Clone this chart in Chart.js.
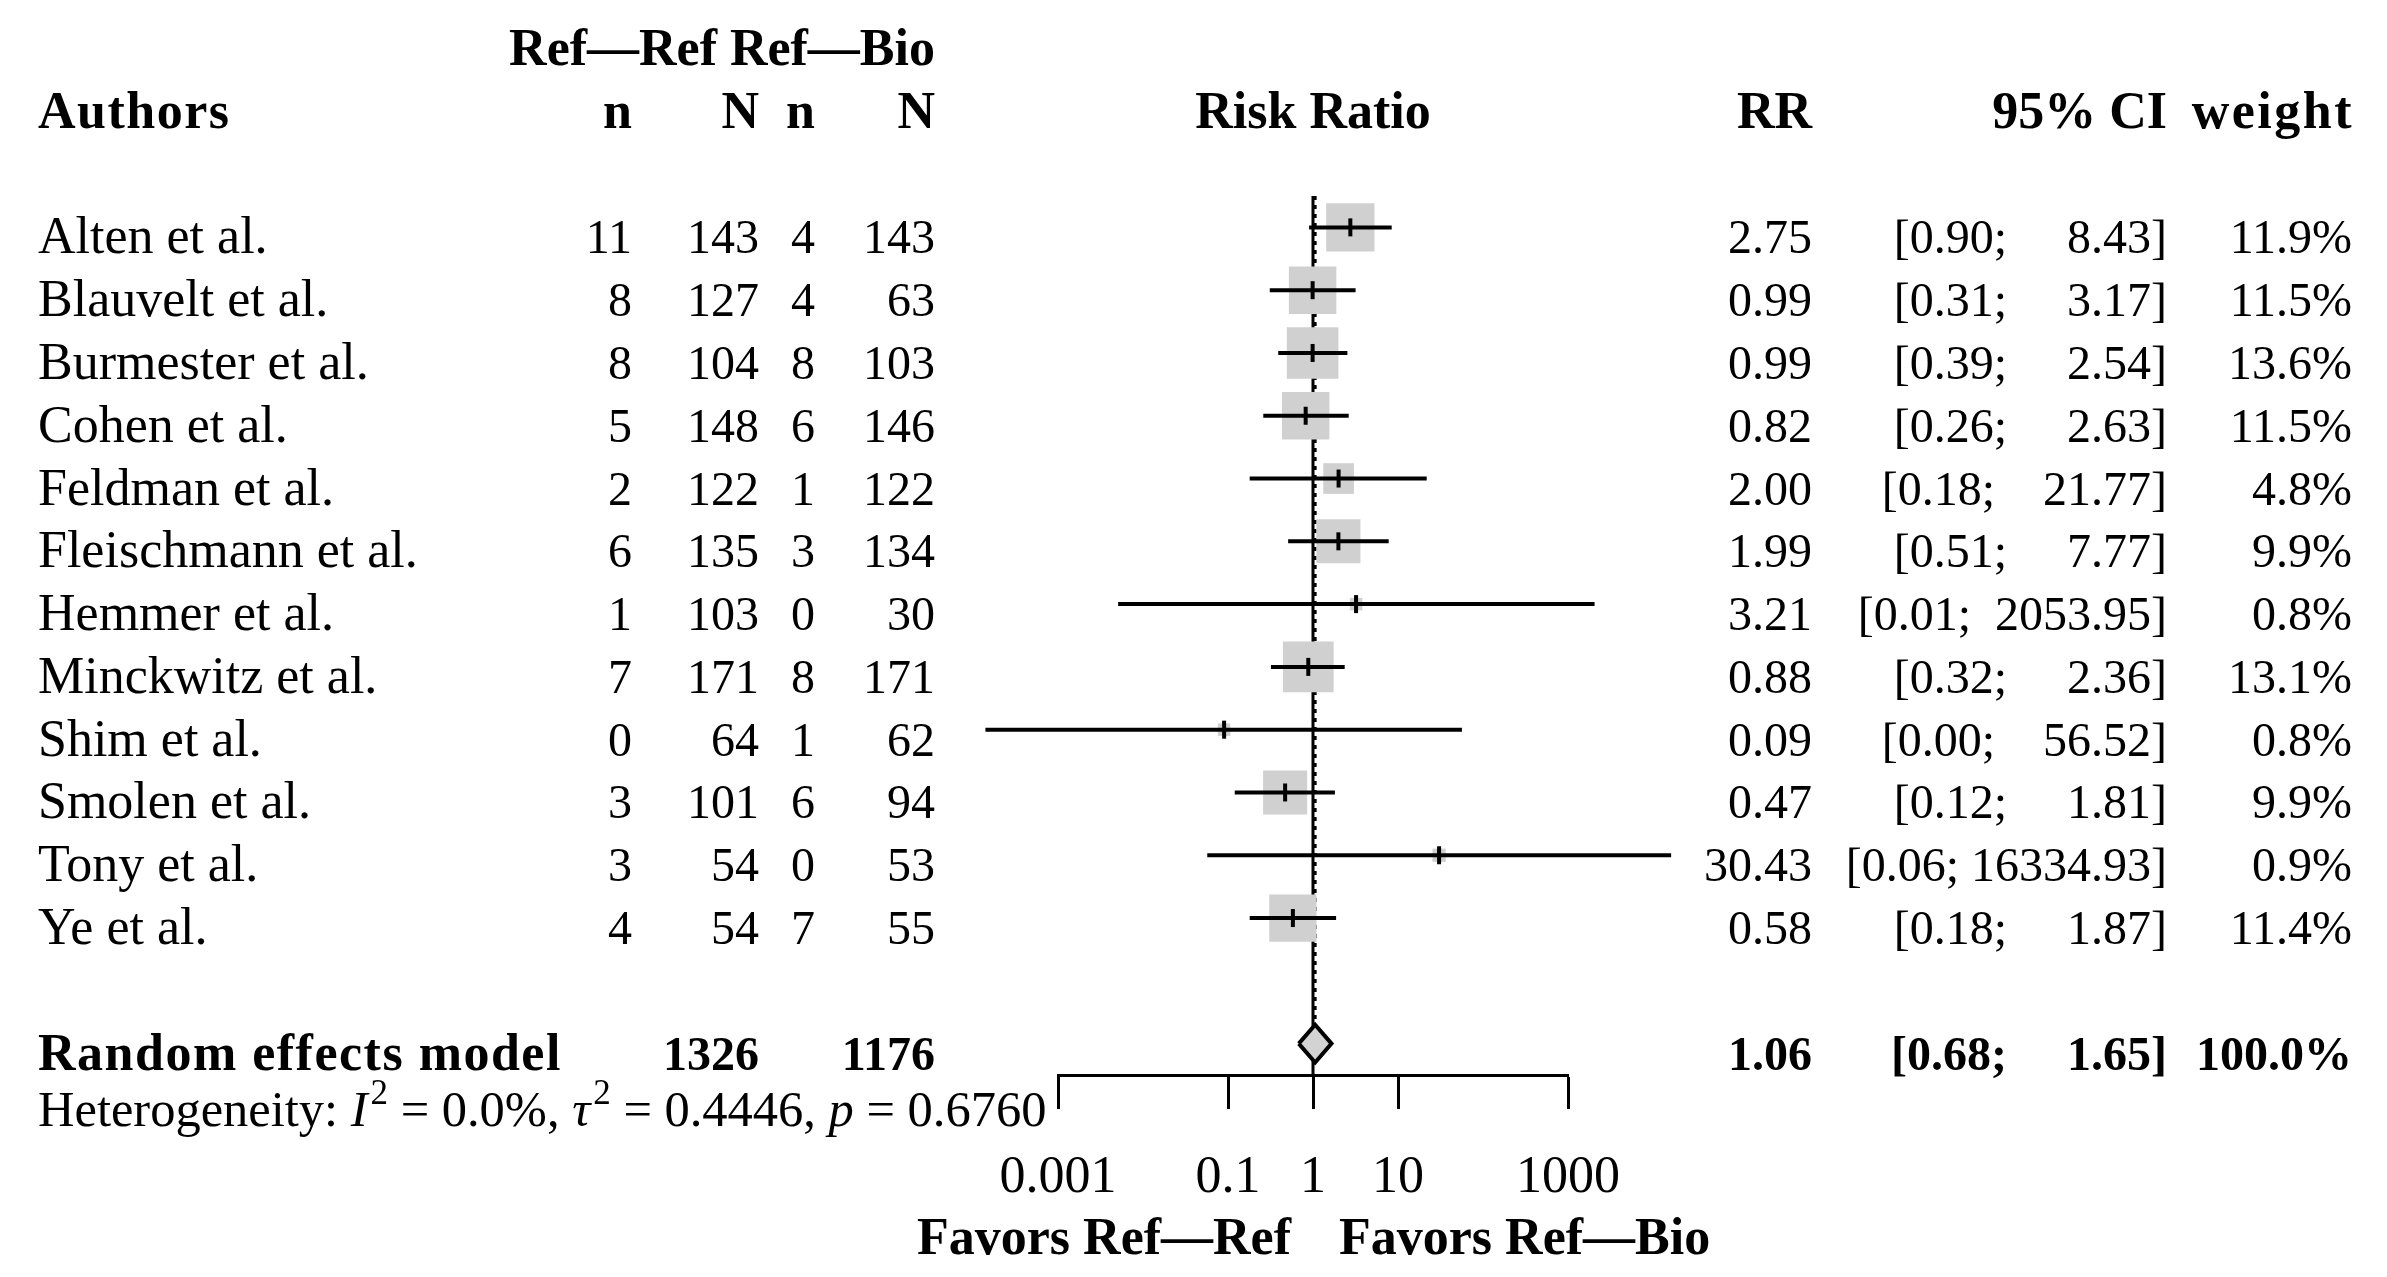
<!DOCTYPE html>
<html>
<head>
<meta charset="utf-8">
<script src="https://cdn.jsdelivr.net/npm/chart.js@4.4.1/dist/chart.umd.min.js"></script>
<style>
  html, body { margin: 0; padding: 0; background: #fff; overflow: hidden; }
  #wrap { width: 2387px; height: 1277px; }
</style>
</head>
<body>
<div id="wrap"><canvas id="forest"></canvas></div>
<script>
// study data
const studies = ["Alten et al.", "Blauvelt et al.", "Burmester et al.", "Cohen et al.", "Feldman et al.",
  "Fleischmann et al.", "Hemmer et al.", "Minckwitz et al.", "Shim et al.", "Smolen et al.", "Tony et al.", "Ye et al."]
const refRefEvents = [11, 8, 8, 5, 2, 6, 1, 7, 0, 3, 3, 4]
const refRefTotal = [143, 127, 104, 148, 122, 135, 103, 171, 64, 101, 54, 54]
const refBioEvents = [4, 4, 8, 6, 1, 3, 0, 8, 1, 6, 0, 7]
const refBioTotal = [143, 63, 103, 146, 122, 134, 30, 171, 62, 94, 53, 55]
const riskRatio = [2.75, 0.99, 0.99, 0.82, 2.00, 1.99, 3.21, 0.88, 0.09, 0.47, 30.43, 0.58]
const ciLower = [0.90, 0.31, 0.39, 0.26, 0.18, 0.51, 0.0051, 0.32, 0.00014, 0.12, 0.057, 0.18]
const ciUpper = [8.43, 3.17, 2.54, 2.63, 21.77, 7.77, 2053.95, 2.36, 56.52, 1.81, 16334.93, 1.87]
const weights = [11.9, 11.5, 13.6, 11.5, 4.8, 9.9, 0.8, 13.1, 0.8, 9.9, 0.9, 11.4]

// random effects summary
const pooledTotals = [1326, 1176]
const pooledRR = 1.06
const pooledCI = [0.68, 1.65]
const heterogeneity = { i2: "0.0%", tau2: "0.4446", p: "0.6760" }

const tickValues = [0.001, 0.1, 1, 10, 1000]

const FONT = '"Liberation Serif", "DejaVu Serif", serif'
const FS = 52     // names and headers
const NUM = 48    // numeric columns
const pooledRow = studies.length + 1

function fmtCI(lo, hi) {
  let up = hi.toFixed(2)
  while (up.length < 8) up = ' ' + up
  return '[' + lo.toFixed(2) + '; ' + up + ']'
}

function put(ctx, str, x, y, align, bold, size, spacing) {
  ctx.font = (bold ? 'bold ' : '') + (size || FS) + 'px ' + FONT
  ctx.letterSpacing = spacing || '0px'
  ctx.textAlign = align
  ctx.fillText(str, x, y)
}

const forestText = {
  id: 'forestText',
  afterDraw(chart) {
    const ctx = chart.ctx
    const ys = chart.scales.y
    const xs = chart.scales.x
    const base = r => ys.getPixelForValue(r) + 26
    ctx.save()
    ctx.fillStyle = '#000'
    ctx.textBaseline = 'alphabetic'

    // headers
    put(ctx, 'Ref\u2014Ref', 717, base(-3), 'right', true)
    put(ctx, 'Ref\u2014Bio', 935, base(-3), 'right', true)
    put(ctx, 'Authors', 38, base(-2), 'left', true, FS, '1.5px')
    put(ctx, 'n', 632, base(-2), 'right', true)
    put(ctx, 'N', 759, base(-2), 'right', true)
    put(ctx, 'n', 815, base(-2), 'right', true)
    put(ctx, 'N', 935, base(-2), 'right', true)
    put(ctx, 'Risk Ratio', xs.getPixelForValue(1), base(-2), 'center', true)
    put(ctx, 'RR', 1812, base(-2), 'right', true)
    put(ctx, '95% CI', 2167, base(-2), 'right', true)
    put(ctx, 'weight', 2354, base(-2), 'right', true, FS, '2.5px')

    // study rows
    studies.forEach((s, i) => {
      const yy = base(i)
      put(ctx, s, 38, yy, 'left')
      put(ctx, String(refRefEvents[i]), 632, yy, 'right', false, NUM)
      put(ctx, String(refRefTotal[i]), 759, yy, 'right', false, NUM)
      put(ctx, String(refBioEvents[i]), 815, yy, 'right', false, NUM)
      put(ctx, String(refBioTotal[i]), 935, yy, 'right', false, NUM)
      put(ctx, riskRatio[i].toFixed(2), 1812, yy, 'right', false, NUM)
      put(ctx, fmtCI(ciLower[i], ciUpper[i]), 2167, yy, 'right', false, NUM)
      put(ctx, weights[i].toFixed(1) + '%', 2352, yy, 'right', false, NUM)
    })

    // pooled row
    const py = base(pooledRow)
    put(ctx, 'Random effects model', 38, py, 'left', true, FS, '1.5px')
    put(ctx, String(pooledTotals[0]), 759, py, 'right', true, NUM)
    put(ctx, String(pooledTotals[1]), 935, py, 'right', true, NUM)
    put(ctx, pooledRR.toFixed(2), 1812, py, 'right', true, NUM)
    put(ctx, fmtCI(pooledCI[0], pooledCI[1]), 2167, py, 'right', true, NUM)
    put(ctx, '100.0%', 2352, py, 'right', true, NUM)

    // heterogeneity line with italics and superscripts
    const hy = base(pooledRow + 0.9)
    const HS = 50.5
    let hx = 38
    const parts = [
      ['Heterogeneity: ', ''], ['I', 'italic'], ['2', 'sup'], [' = ' + heterogeneity.i2 + ', ', ''],
      ['\u03c4', 'italic'], ['2', 'sup'], [' = ' + heterogeneity.tau2 + ', ', ''],
      ['p', 'italic'], [' = ' + heterogeneity.p, '']
    ]
    ctx.textAlign = 'left'
    ctx.letterSpacing = '0px'
    parts.forEach(([t, st]) => {
      let yy = hy
      if (st === 'sup') { ctx.font = '35px ' + FONT; yy = hy - 22; hx += 3 }
      else ctx.font = (st === 'italic' ? 'italic ' : '') + HS + 'px ' + FONT
      ctx.fillText(t, hx, yy)
      hx += ctx.measureText(t).width
    })

    // favours labels
    const fy = base(pooledRow + 2.93)
    const x1 = xs.getPixelForValue(1)
    put(ctx, 'Favors Ref\u2014Ref', x1 - 22, fy, 'right', true)
    put(ctx, 'Favors Ref\u2014Bio', x1 + 26, fy, 'left', true)
    ctx.restore()
  }
}

const ciSets = studies.map((s, i) => ({
  label: s,
  data: [{ x: ciLower[i], y: i }, { x: ciUpper[i], y: i }],
  showLine: true,
  borderColor: '#000',
  borderWidth: 4,
  pointRadius: 0,
  clip: false,
  order: 3
}))

new Chart(document.getElementById('forest'), {
  type: 'scatter',
  data: {
    datasets: [
      {
        label: 'no effect',
        data: [{ x: 1, y: -0.5 }, { x: 1, y: pooledRow + 0.5 }],
        showLine: true, borderColor: '#000', borderWidth: 3, pointRadius: 0, clip: false, order: 6
      },
      {
        label: 'pooled estimate',
        data: [{ x: pooledRR, y: -0.5 }, { x: pooledRR, y: pooledRow - 0.3 }],
        showLine: true, borderColor: '#000', borderWidth: 3, borderDash: [4, 5], pointRadius: 0, clip: false, order: 6
      },
      {
        label: 'weights',
        data: riskRatio.map((v, i) => ({ x: v, y: i })),
        pointStyle: 'rect',
        pointRadius: c => 14 * Math.sqrt(weights[c.dataIndex]) / Math.SQRT2,
        pointBackgroundColor: '#d0d0d0',
        pointBorderWidth: 0,
        clip: false,
        order: 5
      },
      ...ciSets,
      {
        label: 'RR',
        data: riskRatio.map((v, i) => ({ x: v, y: i })),
        pointStyle: 'line',
        pointRotation: 90,
        pointRadius: 9,
        pointBorderWidth: 4,
        pointBorderColor: '#000',
        clip: false,
        order: 2
      },
      {
        label: 'diamond',
        data: [
          { x: pooledCI[0], y: pooledRow }, { x: pooledRR, y: pooledRow - 0.3 },
          { x: pooledCI[1], y: pooledRow }, { x: pooledRR, y: pooledRow + 0.3 },
          { x: pooledCI[0], y: pooledRow }
        ],
        showLine: true, fill: 'shape', backgroundColor: '#d3d3d3',
        borderColor: '#000', borderWidth: 4, pointRadius: 0, clip: false, order: 1
      }
    ]
  },
  options: {
    responsive: true,
    maintainAspectRatio: false,
    animation: false,
    events: [],
    devicePixelRatio: 1,
    layout: { padding: { left: 1058, right: 819, top: 196, bottom: 0 } },
    plugins: { legend: { display: false }, tooltip: { enabled: false } },
    scales: {
      x: {
        type: 'logarithmic',
        min: 0.001,
        max: 1000,
        afterBuildTicks: sc => { sc.ticks = tickValues.map(v => ({ value: v })) },
        afterFit: sc => { sc.height = 202 },
        border: { display: true, color: '#000', width: 3 },
        grid: { drawOnChartArea: false, drawTicks: true, tickLength: 34, tickColor: '#000', tickWidth: 3 },
        ticks: {
          autoSkip: false, maxRotation: 0, padding: 38, color: '#000',
          font: { family: FONT, size: FS },
          callback: v => String(v)
        }
      },
      y: {
        type: 'linear',
        min: -0.5,
        max: pooledRow + 0.5,
        reverse: true,
        display: false
      }
    }
  },
  plugins: [forestText]
})
</script>
</body>
</html>
